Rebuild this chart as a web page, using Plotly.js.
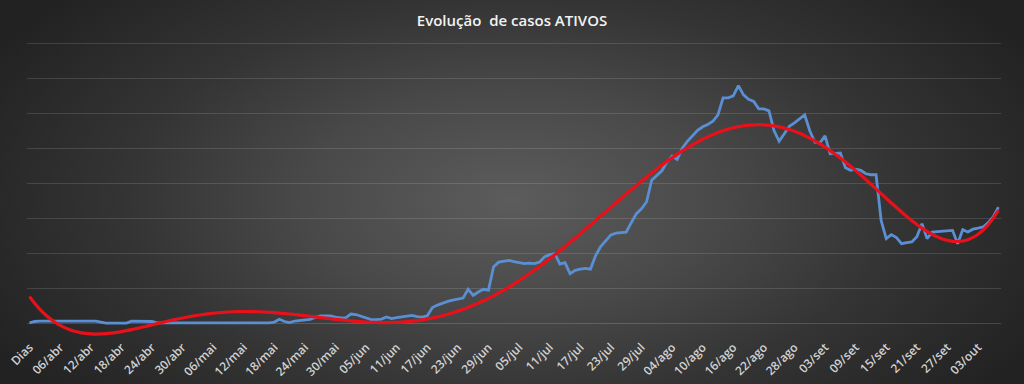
<!DOCTYPE html>
<html>
<head>
<meta charset="utf-8">
<script src="https://cdn.plot.ly/plotly-3.0.1.min.js"></script>
<style>
html,body{margin:0;padding:0;}
body{width:1024px;height:384px;overflow:hidden;
background:radial-gradient(ellipse 58% 80% at 50% 52%, #5c5c5c 0%, #494949 35%, #343434 65%, #222222 100%);}
#chart{width:1024px;height:384px;}
</style>
</head>
<body>
<div id="chart"></div>
<script>
// Month names and lengths used to build the category labels (01/abr .. 07/out)
const monthNames = ["abr","mai","jun","jul","ago","set","out"];
const monthDays  = [30, 31, 30, 31, 31, 30, 7];

const categories = ["Dias"];
monthNames.forEach((m, k) => {
  for (let d = 1; d <= monthDays[k]; d++) {
    categories.push((d < 10 ? "0" + d : "" + d) + "/" + m);
  }
});

// Visible tick labels (every 6th category)
const tickLabels = ["Dias","06/abr","12/abr","18/abr","24/abr","30/abr","06/mai","12/mai","18/mai","24/mai","30/mai",
  "05/jun","11/jun","17/jun","23/jun","29/jun","05/jul","11/jul","17/jul","23/jul","29/jul",
  "04/ago","10/ago","16/ago","22/ago","28/ago","03/set","09/set","15/set","21/set","27/set","03/out"];

// Active cases
const activeCases = [
  10,29,33,33,33,33,33,33,33,33,33,33,33,33,21,7,7,7,7,7,
  33,33,33,33,29,10,10,10,10,10,10,10,10,10,10,10,10,10,10,10,
  10,10,10,10,10,10,10,10,21,61,29,14,36,47,53,61,86,110,110,110,
  93,81,81,136,129,107,79,57,57,64,93,71,86,97,106,117,100,93,110,229,
  264,293,317,336,350,364,490,404,450,490,479,814,879,889,903,886,872,857,864,857,
  879,957,986,1000,850,872,714,762,779,789,779,972,1100,1186,1268,1293,1300,1307,1443,1572,
  1643,1743,2050,2115,2186,2311,2397,2348,2508,2608,2686,2765,2815,2848,2894,2986,3229,3229,3258,3405,
  3272,3208,3179,3072,3072,3043,2758,2608,2715,2822,2872,2929,2986,2758,2594,2586,2686,2429,2435,2439,
  2229,2193,2208,2193,2143,2129,2129,1472,1215,1272,1229,1143,1157,1167,1243,1429,1215,1310,1315,1322,
  1329,1333,1143,1343,1310,1350,1365,1382,1443,1529,1665
];

// Polynomial (order 6) trendline, least squares over the series
function polyTrend(ys, deg) {
  const n = ys.length, c = (n - 1) / 2;
  const ts = ys.map((_, i) => (i - c) / c);
  const m = deg + 1;
  const A = Array.from({length: m}, () => new Array(m + 1).fill(0));
  for (let i = 0; i < n; i++) {
    const p = [];
    for (let k = 0; k < m; k++) p.push(Math.pow(ts[i], k));
    for (let r = 0; r < m; r++) {
      for (let s = 0; s < m; s++) A[r][s] += p[r] * p[s];
      A[r][m] += p[r] * ys[i];
    }
  }
  for (let col = 0; col < m; col++) {
    let piv = col;
    for (let r = col + 1; r < m; r++) if (Math.abs(A[r][col]) > Math.abs(A[piv][col])) piv = r;
    [A[col], A[piv]] = [A[piv], A[col]];
    for (let r = 0; r < m; r++) {
      if (r === col) continue;
      const f = A[r][col] / A[col][col];
      for (let s = col; s <= m; s++) A[r][s] -= f * A[col][s];
    }
  }
  const coef = A.map((row, r) => row[m] / row[r]);
  return ts.map(t => coef.reduce((acc, a, k) => acc + a * Math.pow(t, k), 0));
}
const trend = polyTrend(activeCases, 6);

const traces = [
  {x: categories, y: activeCases, type: "scatter", mode: "lines",
   line: {color: "#5b8fd3", width: 2.8}, hoverinfo: "skip"},
  {x: categories, y: trend, type: "scatter", mode: "lines",
   line: {color: "#e8111a", width: 3.2, shape: "spline"}, hoverinfo: "skip"}
];

const layout = {
  width: 1024, height: 384,
  margin: {l: 27, r: 23, t: 37, b: 42.5},
  paper_bgcolor: "rgba(0,0,0,0)", plot_bgcolor: "rgba(0,0,0,0)",
  showlegend: false,
  title: {text: "Evolução\u00a0 de casos ATIVOS", x: 0.5, xanchor: "center", y: 0.947, yanchor: "middle",
          font: {family: "Open Sans", size: 15, color: "#f2f2f2", weight: 600}},
  xaxis: {type: "category", range: [-0.5, categories.length - 0.5],
          tickmode: "array", tickvals: tickLabels, ticktext: tickLabels,
          tickangle: -45, showgrid: false, zeroline: false, showline: false, ticks: "",
          ticklabelstandoff: -4,
          tickfont: {family: "Open Sans", size: 12, color: "#d2d2d2", weight: 600}},
  yaxis: {range: [-250, 4100], tick0: 0, dtick: 500, showticklabels: false, ticks: "",
          showgrid: true, gridcolor: "rgba(255,255,255,0.13)", gridwidth: 1,
          zeroline: true, zerolinecolor: "rgba(255,255,255,0.16)", zerolinewidth: 1, showline: false}
};

Plotly.newPlot("chart", traces, layout, {displayModeBar: false, staticPlot: true});
</script>
</body>
</html>
